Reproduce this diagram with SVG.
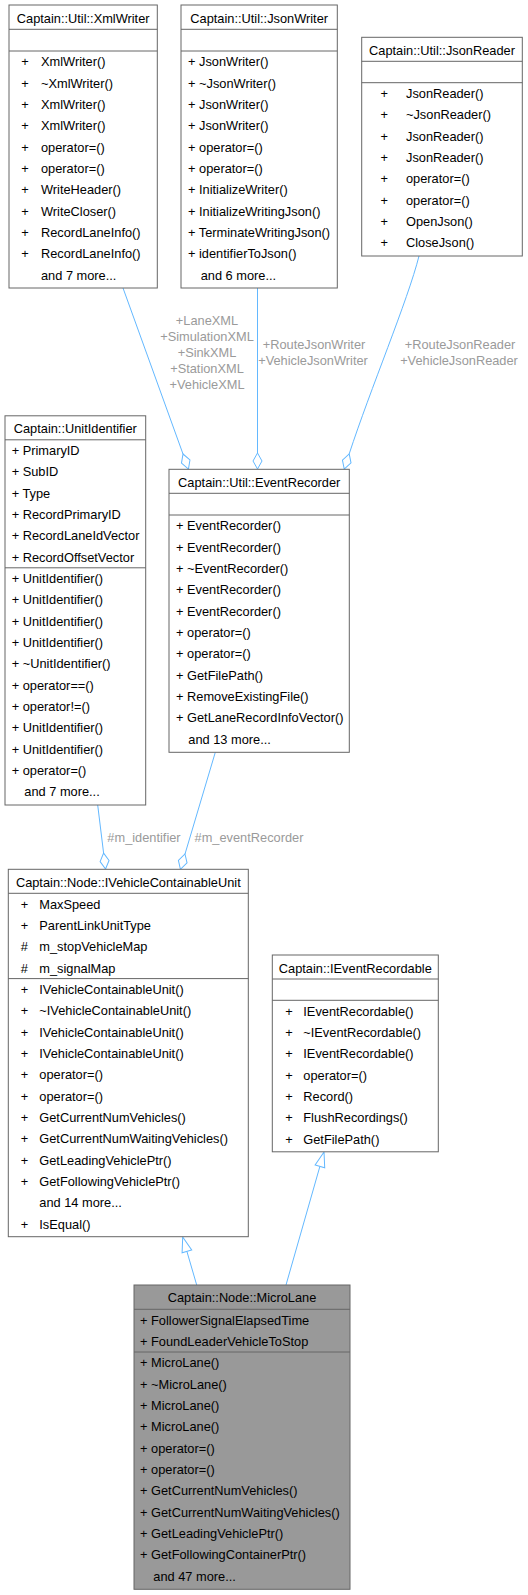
<svg xmlns="http://www.w3.org/2000/svg" width="528" height="1595" viewBox="0 0 528 1595">
<style>
text{font-family:"Liberation Sans",Arial,sans-serif;font-size:12.8px;fill:#000}
.t{text-anchor:middle}
.c{text-anchor:middle}
.box{fill:#fff;stroke:#666;stroke-width:1}
.main{fill:#999;stroke:#666;stroke-width:1}
.sep{stroke:#666;stroke-width:1}
.e{fill:none;stroke:#63b8ff;stroke-width:1}
.lbl{fill:#9a9a9a;text-anchor:middle}
</style>
<defs>
<marker id="odiamond" markerUnits="userSpaceOnUse" viewBox="-1 -6 18 12" markerWidth="18" markerHeight="12" refX="0" refY="0" orient="auto">
<path d="M0,0 L8,-4.5 L16,0 L8,4.5 Z" fill="#fff" stroke="#63b8ff" stroke-width="1"/>
</marker>
<marker id="otri" markerUnits="userSpaceOnUse" viewBox="-1 -6 17 12" markerWidth="17" markerHeight="12" refX="0" refY="0" orient="auto">
<path d="M0,-5 L15,0 L0,5 Z" fill="#fff" stroke="#63b8ff" stroke-width="1"/>
</marker>
</defs>

<g id="connectors">
<path class="e" d="M123,288 L183,454" marker-end="url(#odiamond)"/>
<path class="e" d="M257.5,288 L257.5,453" marker-end="url(#odiamond)"/>
<path class="e" d="M419,256 C408,300 370,390 349.2,453.9" marker-end="url(#odiamond)"/>
<path class="e" d="M97.7,805 L103.6,853.1" marker-end="url(#odiamond)"/>
<path class="e" d="M215.3,752.3 L185,854" marker-end="url(#odiamond)"/>
<path class="e" d="M196.7,1285 L186.9,1251.4" marker-end="url(#otri)"/>
<path class="e" d="M286,1285 L319.9,1166.4" marker-end="url(#otri)"/>
<text class="lbl" x="207" y="325.2">+LaneXML</text>
<text class="lbl" x="207" y="341.2">+SimulationXML</text>
<text class="lbl" x="207" y="356.8">+SinkXML</text>
<text class="lbl" x="207" y="373.2">+StationXML</text>
<text class="lbl" x="207" y="388.8">+VehicleXML</text>
<text class="lbl" x="314" y="348.5">+RouteJsonWriter</text>
<text class="lbl" x="313" y="364.8">+VehicleJsonWriter</text>
<text class="lbl" x="460" y="348.5">+RouteJsonReader</text>
<text class="lbl" x="459" y="364.8">+VehicleJsonReader</text>
<text class="lbl" x="144" y="841.8">#m_identifier</text>
<text class="lbl" x="249" y="841.8">#m_eventRecorder</text>
</g>

<g id="XmlWriter">
<rect class="box" x="9" y="5" width="148.3" height="283"/>
<line class="sep" x1="9" y1="29.3" x2="157.3" y2="29.3"/>
<line class="sep" x1="9" y1="51" x2="157.3" y2="51"/>
<text class="t" x="83.2" y="22.5">Captain::Util::XmlWriter</text>
<text class="c" x="25" y="66.2">+</text><text x="41" y="66.2">XmlWriter()</text>
<text class="c" x="25" y="87.5">+</text><text x="41" y="87.5">~XmlWriter()</text>
<text class="c" x="25" y="108.8">+</text><text x="41" y="108.8">XmlWriter()</text>
<text class="c" x="25" y="130.2">+</text><text x="41" y="130.2">XmlWriter()</text>
<text class="c" x="25" y="151.5">+</text><text x="41" y="151.5">operator=()</text>
<text class="c" x="25" y="172.8">+</text><text x="41" y="172.8">operator=()</text>
<text class="c" x="25" y="194.2">+</text><text x="41" y="194.2">WriteHeader()</text>
<text class="c" x="25" y="215.5">+</text><text x="41" y="215.5">WriteCloser()</text>
<text class="c" x="25" y="236.8">+</text><text x="41" y="236.8">RecordLaneInfo()</text>
<text class="c" x="25" y="258.2">+</text><text x="41" y="258.2">RecordLaneInfo()</text>
<text x="41" y="279.5">and 7 more...</text>
</g>

<g id="JsonWriter">
<rect class="box" x="181" y="5" width="156.3" height="283"/>
<line class="sep" x1="181" y1="29.3" x2="337.3" y2="29.3"/>
<line class="sep" x1="181" y1="51" x2="337.3" y2="51"/>
<text class="t" x="259.2" y="22.5">Captain::Util::JsonWriter</text>
<text x="188" y="66.2">+ JsonWriter()</text>
<text x="188" y="87.5">+ ~JsonWriter()</text>
<text x="188" y="108.8">+ JsonWriter()</text>
<text x="188" y="130.2">+ JsonWriter()</text>
<text x="188" y="151.5">+ operator=()</text>
<text x="188" y="172.8">+ operator=()</text>
<text x="188" y="194.2">+ InitializeWriter()</text>
<text x="188" y="215.5">+ InitializeWritingJson()</text>
<text x="188" y="236.8">+ TerminateWritingJson()</text>
<text x="188" y="258.2">+ identifierToJson()</text>
<text x="200.7" y="279.5">and 6 more...</text>
</g>

<g id="JsonReader">
<rect class="box" x="361.7" y="37.3" width="160.6" height="218.7"/>
<line class="sep" x1="361.7" y1="61.3" x2="522.3" y2="61.3"/>
<line class="sep" x1="361.7" y1="82.7" x2="522.3" y2="82.7"/>
<text class="t" x="442" y="54.8">Captain::Util::JsonReader</text>
<text class="c" x="384.3" y="97.9">+</text><text x="406" y="97.9">JsonReader()</text>
<text class="c" x="384.3" y="119.2">+</text><text x="406" y="119.2">~JsonReader()</text>
<text class="c" x="384.3" y="140.5">+</text><text x="406" y="140.5">JsonReader()</text>
<text class="c" x="384.3" y="161.9">+</text><text x="406" y="161.9">JsonReader()</text>
<text class="c" x="384.3" y="183.2">+</text><text x="406" y="183.2">operator=()</text>
<text class="c" x="384.3" y="204.5">+</text><text x="406" y="204.5">operator=()</text>
<text class="c" x="384.3" y="225.9">+</text><text x="406" y="225.9">OpenJson()</text>
<text class="c" x="384.3" y="247.2">+</text><text x="406" y="247.2">CloseJson()</text>
</g>

<g id="UnitIdentifier">
<rect class="box" x="5" y="415.8" width="140.7" height="389.2"/>
<line class="sep" x1="5" y1="439.8" x2="145.7" y2="439.8"/>
<line class="sep" x1="5" y1="567.8" x2="145.7" y2="567.8"/>
<text class="t" x="75.3" y="433.3">Captain::UnitIdentifier</text>
<text x="11.7" y="455">+ PrimaryID</text>
<text x="11.7" y="476.3">+ SubID</text>
<text x="11.7" y="497.6">+ Type</text>
<text x="11.7" y="519">+ RecordPrimaryID</text>
<text x="11.7" y="540.3">+ RecordLaneIdVector</text>
<text x="11.7" y="561.6">+ RecordOffsetVector</text>
<text x="11.7" y="583">+ UnitIdentifier()</text>
<text x="11.7" y="604.3">+ UnitIdentifier()</text>
<text x="11.7" y="625.6">+ UnitIdentifier()</text>
<text x="11.7" y="647">+ UnitIdentifier()</text>
<text x="11.7" y="668.3">+ ~UnitIdentifier()</text>
<text x="11.7" y="689.6">+ operator==()</text>
<text x="11.7" y="711">+ operator!=()</text>
<text x="11.7" y="732.3">+ UnitIdentifier()</text>
<text x="11.7" y="753.6">+ UnitIdentifier()</text>
<text x="11.7" y="775">+ operator=()</text>
<text x="24.3" y="796.3">and 7 more...</text>
</g>

<g id="EventRecorder">
<rect class="box" x="169" y="469.3" width="180.3" height="283"/>
<line class="sep" x1="169" y1="493.3" x2="349.3" y2="493.3"/>
<line class="sep" x1="169" y1="515" x2="349.3" y2="515"/>
<text class="t" x="259.2" y="486.8">Captain::Util::EventRecorder</text>
<text x="176" y="530.2">+ EventRecorder()</text>
<text x="176" y="551.5">+ EventRecorder()</text>
<text x="176" y="572.8">+ ~EventRecorder()</text>
<text x="176" y="594.2">+ EventRecorder()</text>
<text x="176" y="615.5">+ EventRecorder()</text>
<text x="176" y="636.8">+ operator=()</text>
<text x="176" y="658.2">+ operator=()</text>
<text x="176" y="679.5">+ GetFilePath()</text>
<text x="176" y="700.8">+ RemoveExistingFile()</text>
<text x="176" y="722.2">+ GetLaneRecordInfoVector()</text>
<text x="188.3" y="743.5">and 13 more...</text>
</g>

<g id="IVehicleContainableUnit">
<rect class="box" x="8.3" y="869.3" width="240" height="367.4"/>
<line class="sep" x1="8.3" y1="893.3" x2="248.3" y2="893.3"/>
<line class="sep" x1="8.3" y1="978.6" x2="248.3" y2="978.6"/>
<text class="t" x="128.3" y="886.8">Captain::Node::IVehicleContainableUnit</text>
<text class="c" x="24.4" y="908.5">+</text><text x="39.3" y="908.5">MaxSpeed</text>
<text class="c" x="24.4" y="929.8">+</text><text x="39.3" y="929.8">ParentLinkUnitType</text>
<text class="c" x="24.4" y="951.1">#</text><text x="39.3" y="951.1">m_stopVehicleMap</text>
<text class="c" x="24.4" y="972.5">#</text><text x="39.3" y="972.5">m_signalMap</text>
<text class="c" x="24.4" y="993.8">+</text><text x="39.3" y="993.8">IVehicleContainableUnit()</text>
<text class="c" x="24.4" y="1015.1">+</text><text x="39.3" y="1015.1">~IVehicleContainableUnit()</text>
<text class="c" x="24.4" y="1036.5">+</text><text x="39.3" y="1036.5">IVehicleContainableUnit()</text>
<text class="c" x="24.4" y="1057.8">+</text><text x="39.3" y="1057.8">IVehicleContainableUnit()</text>
<text class="c" x="24.4" y="1079.1">+</text><text x="39.3" y="1079.1">operator=()</text>
<text class="c" x="24.4" y="1100.5">+</text><text x="39.3" y="1100.5">operator=()</text>
<text class="c" x="24.4" y="1121.8">+</text><text x="39.3" y="1121.8">GetCurrentNumVehicles()</text>
<text class="c" x="24.4" y="1143.1">+</text><text x="39.3" y="1143.1">GetCurrentNumWaitingVehicles()</text>
<text class="c" x="24.4" y="1164.5">+</text><text x="39.3" y="1164.5">GetLeadingVehiclePtr()</text>
<text class="c" x="24.4" y="1185.8">+</text><text x="39.3" y="1185.8">GetFollowingVehiclePtr()</text>
<text x="39.3" y="1207.1">and 14 more...</text>
<text class="c" x="24.4" y="1228.5">+</text><text x="39.3" y="1228.5">IsEqual()</text>
</g>

<g id="IEventRecordable">
<rect class="box" x="272.3" y="955" width="166" height="196.8"/>
<line class="sep" x1="272.3" y1="979" x2="438.3" y2="979"/>
<line class="sep" x1="272.3" y1="1000.3" x2="438.3" y2="1000.3"/>
<text class="t" x="355.3" y="972.5">Captain::IEventRecordable</text>
<text class="c" x="289" y="1015.5">+</text><text x="303.3" y="1015.5">IEventRecordable()</text>
<text class="c" x="289" y="1036.8">+</text><text x="303.3" y="1036.8">~IEventRecordable()</text>
<text class="c" x="289" y="1058.1">+</text><text x="303.3" y="1058.1">IEventRecordable()</text>
<text class="c" x="289" y="1079.5">+</text><text x="303.3" y="1079.5">operator=()</text>
<text class="c" x="289" y="1100.8">+</text><text x="303.3" y="1100.8">Record()</text>
<text class="c" x="289" y="1122.1">+</text><text x="303.3" y="1122.1">FlushRecordings()</text>
<text class="c" x="289" y="1143.5">+</text><text x="303.3" y="1143.5">GetFilePath()</text>
</g>

<g id="MicroLane">
<rect class="main" x="134" y="1285" width="216" height="304.3"/>
<line class="sep" x1="134" y1="1309.3" x2="350" y2="1309.3"/>
<line class="sep" x1="134" y1="1352" x2="350" y2="1352"/>
<text class="t" x="242" y="1302.3">Captain::Node::MicroLane</text>
<text x="140" y="1324.5">+ FollowerSignalElapsedTime</text>
<text x="140" y="1345.8">+ FoundLeaderVehicleToStop</text>
<text x="140" y="1367.2">+ MicroLane()</text>
<text x="140" y="1388.5">+ ~MicroLane()</text>
<text x="140" y="1409.8">+ MicroLane()</text>
<text x="140" y="1431.2">+ MicroLane()</text>
<text x="140" y="1452.5">+ operator=()</text>
<text x="140" y="1473.8">+ operator=()</text>
<text x="140" y="1495.2">+ GetCurrentNumVehicles()</text>
<text x="140" y="1516.5">+ GetCurrentNumWaitingVehicles()</text>
<text x="140" y="1537.8">+ GetLeadingVehiclePtr()</text>
<text x="140" y="1559.2">+ GetFollowingContainerPtr()</text>
<text x="153.3" y="1580.5">and 47 more...</text>
</g>
</svg>
